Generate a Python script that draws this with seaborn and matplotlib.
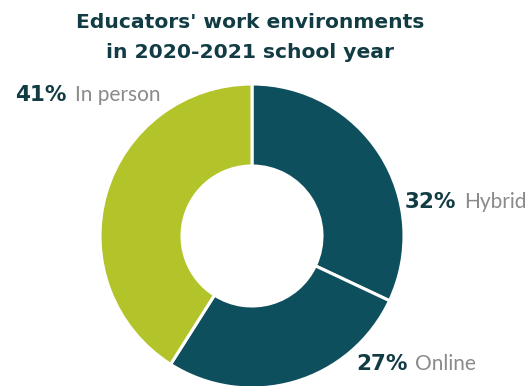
import matplotlib
matplotlib.use("Agg")
import matplotlib.pyplot as plt
import seaborn as sns

# Share of educators by work environment, 2020-2021 school year
categories = ["Hybrid", "Online", "In person"]
shares = [32, 27, 41]
slice_colors = ["#0e4f5e", "#0e4f5e", "#b3c42a"]

title_lines = ["Educators' work environments", "in 2020-2021 school year"]

sns.set_theme(style="white")
plt.rcParams["font.family"] = ["DejaVu Sans"]

W, H = 528, 386
fig = plt.figure(figsize=(W / 100, H / 100), dpi=100)
ax = fig.add_axes([0, 0, 1, 1])

cx, cy, R = 252, H - 236, 152
ax.pie(shares, colors=slice_colors, startangle=90, counterclock=False,
       center=(cx, cy), radius=R, frame=True,
       wedgeprops=dict(width=R - 70, edgecolor="white", linewidth=2.2))
ax.set_xlim(0, W)
ax.set_ylim(0, H)
ax.set_aspect("equal")
ax.axis("off")

dark = "#123c44"
gray = "#8a8a8a"

for i, line in enumerate(title_lines):
    fig.text(250 / W, 1 - (22 + 30 * i) / H, line, ha="center", va="center",
             fontsize=14.6, fontweight="bold", color=dark,
             family=["DejaVu Sans"])

# (percent x, label x, y) in pixel coordinates from the top-left
label_pos = {"Hybrid": (405, 464, 202), "Online": (356, 415, 364),
             "In person": (15, 75, 95)}
for cat, val in zip(categories, shares):
    px, lx, y = label_pos[cat]
    ax.text(px, H - y, f"{val}%", ha="left", va="center", fontsize=15.5,
            fontweight="bold", color=dark, family=["DejaVu Sans"])
    ax.text(lx, H - y, cat, ha="left", va="center", fontsize=15,
            fontweight="normal", color=gray, family=["Lato", "DejaVu Sans"])

fig.savefig("out.png", dpi=100, facecolor="white")
